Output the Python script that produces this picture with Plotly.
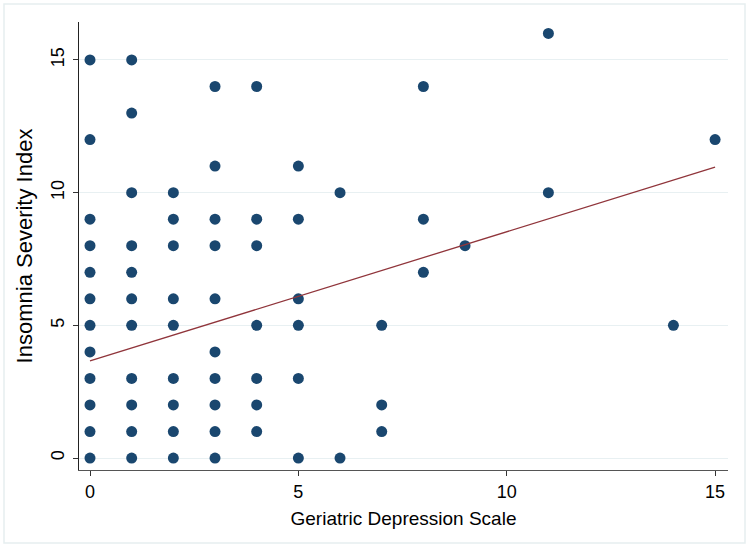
import plotly.graph_objects as go

# Data
gds_x = (
    [0]*12 + [1]*11 + [2]*9 + [3]*10 + [4]*7 + [5]*6 + [6]*2 + [7]*3 + [8]*3 + [9] + [11]*2 + [14] + [15]
)
isi_y = (
    [15, 12, 9, 8, 7, 6, 5, 4, 3, 2, 1, 0]
    + [15, 13, 10, 8, 7, 6, 5, 3, 2, 1, 0]
    + [10, 9, 8, 6, 5, 3, 2, 1, 0]
    + [14, 11, 9, 8, 6, 4, 3, 2, 1, 0]
    + [14, 9, 8, 5, 3, 2, 1]
    + [11, 9, 6, 5, 3, 0]
    + [10, 0]
    + [5, 2, 1]
    + [14, 9, 7]
    + [8]
    + [16, 10]
    + [5]
    + [12]
)
fit_x = [0, 15]
fit_y = [3.66, 10.96]
tick_vals = [0, 5, 10, 15]

W, H = 750, 547
L, R, T, B = 79, 22, 22, 77

fig = go.Figure()
fig.add_trace(go.Scatter(
    x=gds_x, y=isi_y, mode="markers",
    marker=dict(color="#1a476f", size=11, line=dict(width=0)),
    showlegend=False, hoverinfo="x+y",
))
fig.add_trace(go.Scatter(
    x=fit_x, y=fit_y, mode="lines",
    line=dict(color="#90353b", width=1.3),
    showlegend=False,
))

pw = W - L - R
ph = H - T - B
fig.add_shape(type="rect", xref="paper", yref="paper",
              x0=(4 - L) / pw, x1=(745 - L) / pw,
              y0=-(543 - (H - B)) / ph, y1=1 + (T - 4) / ph,
              line=dict(color="#e6eef0", width=1.5), fillcolor="rgba(0,0,0,0)",
              layer="below")

fig.update_layout(
    width=W, height=H,
    margin=dict(l=L, r=R, t=T, b=B, autoexpand=False),
    paper_bgcolor="white", plot_bgcolor="white",
    font=dict(family="Liberation Sans, Arial, sans-serif", size=18, color="black"),
    xaxis=dict(
        range=[-0.264, 15.31], tickvals=tick_vals, ticks="outside", ticklen=5,
        tickcolor="#333", showgrid=False, zeroline=False, automargin=False,
        showline=True, linecolor="#555", linewidth=1.3,
        title=dict(text="Geriatric Depression Scale", standoff=10, font=dict(size=19)),
        tickfont=dict(size=18),
    ),
    yaxis=dict(
        range=[-0.45, 16.43], tickvals=tick_vals, ticks="outside", ticklen=5,
        tickcolor="#333", tickangle=-90, automargin=False, ticklabelstandoff=2,
        showgrid=True, gridcolor="#e8f0f2", gridwidth=1.3, zeroline=False,
        showline=True, linecolor="#222", linewidth=1.3,
        title=dict(text="Insomnia Severity Index", standoff=8, font=dict(size=22)),
        tickfont=dict(size=18),
    ),
)

fig.write_html("out.html", config={"displayModeBar": False},
               post_script="document.body.style.margin='0';document.body.style.padding='0';")
